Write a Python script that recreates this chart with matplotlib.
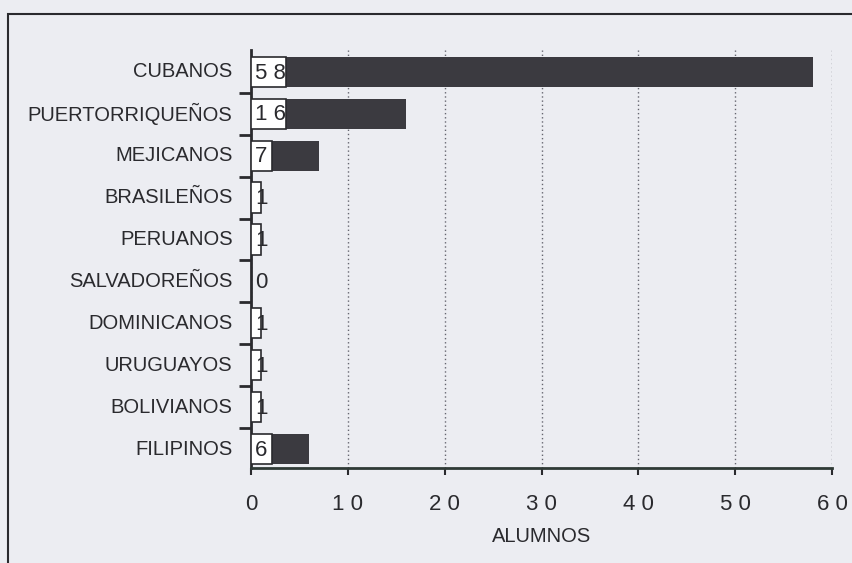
import matplotlib.pyplot as plt
from matplotlib.patches import Rectangle

paises = ["CUBANOS", "PUERTORRIQUEÑOS", "MEJICANOS", "BRASILEÑOS", "PERUANOS",
          "SALVADOREÑOS", "DOMINICANOS", "URUGUAYOS", "BOLIVIANOS", "FILIPINOS"]
alumnos = [58, 16, 7, 1, 1, 0, 1, 1, 1, 6]
xticks = [0, 10, 20, 30, 40, 50, 60]

plt.rcParams['font.family'] = ['Liberation Sans', 'DejaVu Sans']

bg = '#ecedf2'
ink = '#2a2a2e'
barcol = '#3b3a40'

fig = plt.figure(figsize=(8.52, 5.63), dpi=100, facecolor=bg)
ax = fig.add_axes([0.2946, 0.1687, 0.682, 0.7425], facecolor=bg)

# marco exterior
fig.patches.append(Rectangle((8 / 852, -0.1), 1.2, 1 - 14 / 563 + 0.1, transform=fig.transFigure,
                             fill=False, edgecolor=ink, linewidth=1.5))

y = list(range(len(paises)))
ax.barh(y, alumnos, height=0.72, color=barcol, zorder=2)

# cajas blancas con el valor
for i, v in enumerate(alumnos):
    s = ' '.join(str(v))
    w = min(v, 0.8 + 1.4 * len(str(v)))
    if w > 0:
        ax.barh(i, w, height=0.72, color='white', edgecolor=ink, linewidth=1.2, zorder=3)
    ax.text(0.45, i + 0.03, s, ha='left', va='center', fontsize=16, color=ink, zorder=4)

ax.set_xlim(0, 60)
ax.set_ylim(9.45, -0.52)
ax.set_xticks(xticks)
ax.set_xticklabels([' '.join(str(t)) for t in xticks], fontsize=16, color=ink)
ax.set_yticks([i + 0.5 for i in range(len(paises) - 1)])
ax.set_yticklabels([])
ax.tick_params(axis='y', length=9, width=2, color=ink)
ax.tick_params(axis='x', length=5, width=1.5, color=ink, pad=14)
for i, p in enumerate(paises):
    ax.text(-1.9, i, p, ha='right', va='center', fontsize=14.5, color=ink)

ax.grid(axis='x', linestyle=(0, (1, 2)), color='#666670', linewidth=1)
ax.set_axisbelow(True)
for s in ['top', 'right']:
    ax.spines[s].set_visible(False)
ax.spines['left'].set_linewidth(2)
ax.spines['bottom'].set_linewidth(2)
ax.spines['left'].set_color(ink)
ax.spines['bottom'].set_color('#2f3a36')

ax.set_xlabel("ALUMNOS", fontsize=14.5, color=ink, labelpad=8)

fig.savefig("out.png", dpi=100, facecolor=bg)
